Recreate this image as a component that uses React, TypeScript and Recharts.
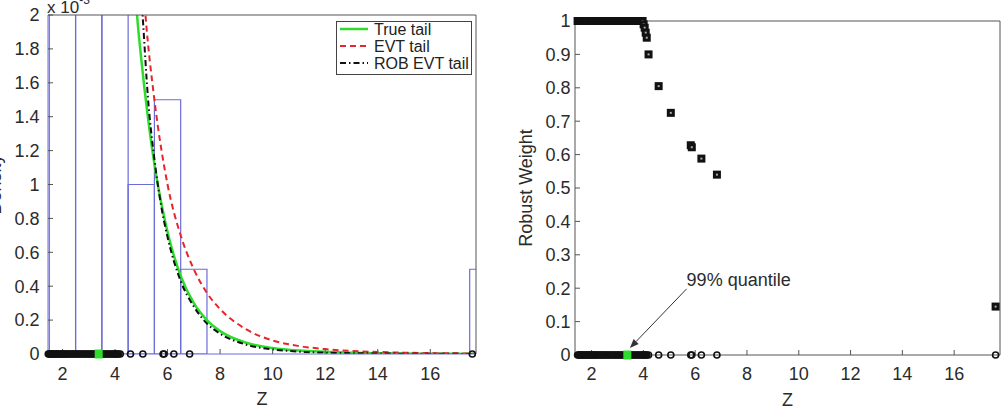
import React from 'react';
import {
  ComposedChart,
  Line,
  Scatter,
  XAxis,
  YAxis,
  ReferenceArea,
  ReferenceLine,
  Customized,
} from 'recharts';

// ---- axis ticks ----
const zTicks = [2, 4, 6, 8, 10, 12, 14, 16];
const densityTicks = [0, 0.2, 0.4, 0.6, 0.8, 1, 1.2, 1.4, 1.6, 1.8, 2];
const weightTicks = [0, 0.1, 0.2, 0.3, 0.4, 0.5, 0.6, 0.7, 0.8, 0.9, 1];

// ---- histogram (density, x 10^-3) ----
const binStart = [1.5, 2.5, 3.5, 4.5, 5.5, 6.5, 17.5];
const binEnd = [2.5, 3.5, 4.5, 5.5, 6.5, 7.5, 18.5];
const binHeight = [120, 30, 7.5, 1.0, 1.5, 0.5, 0.5];

// ---- tail densities (x 10^-3) ----
const trueTailZ = [4.7, 4.84, 5.0, 5.25, 5.5, 5.75, 6.0, 6.5, 7.0, 7.5, 8.0, 9.0, 10.0, 11.0, 12.0, 13.0, 14.0, 15.0, 16.0, 17.7];
const trueTailY = [2.35, 2.0, 1.74, 1.4, 1.12, 0.9, 0.72, 0.46, 0.3, 0.2, 0.135, 0.066, 0.035, 0.02, 0.013, 0.008, 0.005, 0.003, 0.002, 0.001];

const evtTailZ = [5.0, 5.16, 5.5, 6.0, 6.5, 7.0, 7.5, 8.0, 9.0, 10.0, 11.0, 12.0, 13.0, 14.0, 15.0, 16.0, 17.7];
const evtTailY = [2.35, 2.0, 1.5, 1.0, 0.7, 0.5, 0.36, 0.265, 0.145, 0.08, 0.047, 0.029, 0.018, 0.012, 0.008, 0.0055, 0.003];

const robTailZ = [4.85, 5.05, 5.25, 5.5, 5.75, 6.0, 6.5, 7.0, 7.5, 8.0, 9.0, 10.0, 11.0, 12.0, 13.0, 14.0, 15.0, 16.0, 17.7];
const robTailY = [2.45, 2.0, 1.52, 1.15, 0.88, 0.69, 0.43, 0.28, 0.18, 0.12, 0.055, 0.027, 0.014, 0.008, 0.005, 0.003, 0.002, 0.0012, 0.0006];

// ---- observations and their robust weights ----
const sampleZ = [
  1.46, 1.5, 1.53, 1.57, 1.61, 1.64, 1.69, 1.73, 1.78, 1.81, 1.86, 1.9, 1.95, 1.99,
  2.04, 2.09, 2.13, 2.18, 2.22, 2.27, 2.33, 2.38, 2.42, 2.47, 2.53, 2.58, 2.63, 2.69,
  2.74, 2.8, 2.85, 2.91, 2.97, 3.02, 3.08, 3.13, 3.19, 3.24, 3.3, 3.36, 3.42, 3.47,
  3.53, 3.58, 3.64, 3.69, 3.75, 3.81, 3.86, 3.92, 3.97, 4.01, 4.05, 4.09, 4.13,
  4.2, 4.59, 5.06, 5.83, 5.87, 6.24, 6.84, 17.6,
];
const sampleWeight = [
  1, 1, 1, 1, 1, 1, 1, 1, 1, 1, 1, 1, 1, 1,
  1, 1, 1, 1, 1, 1, 1, 1, 1, 1, 1, 1, 1, 1,
  1, 1, 1, 1, 1, 1, 1, 1, 1, 1, 1, 1, 1, 1,
  1, 1, 1, 1, 1, 1, 1, 1, 1, 0.99, 0.98, 0.965, 0.95,
  0.9, 0.805, 0.725, 0.628, 0.622, 0.588, 0.54, 0.145,
];
const quantile99 = 3.38;

const arrowFrom = { z: 5.67, w: 0.198 };
const arrowTo = { z: 3.48, w: 0.021 };

// ---- derived tables ----
const toLine = (zs: number[], ys: number[]) => zs.map((z, i) => ({ z, y: ys[i] }));
const trueData = toLine(trueTailZ, trueTailY);
const evtData = toLine(evtTailZ, evtTailY);
const robData = toLine(robTailZ, robTailY);
const zeroData = sampleZ.map((z) => ({ z, w: 0 }));
const weightData = sampleZ.map((z, i) => ({ z, w: sampleWeight[i] }));
const quantData = [{ z: quantile99, w: 0 }];

const font = '"Liberation Sans", Arial, Helvetica, sans-serif';
const txt = '#2b2b2b';
const axisGray = '#555';
const histBlue = '#6c6cd8';
const green = '#2ddc2d';
const red = '#e5262c';

const tickStyle = { fill: txt, fontSize: 18, fontFamily: font };

const OpenCircle = (p: any) => (
  <circle cx={p.cx} cy={p.cy} r={3} fill="none" stroke="#111" strokeWidth={1.6} />
);
const SquareMark = (p: any) => (
  <g>
    <rect x={p.cx - 4} y={p.cy - 4} width={8} height={8} fill="#111" />
    <rect x={p.cx - 1} y={p.cy - 1} width={2} height={2} fill="#aaa" />
  </g>
);
const GreenMark = (p: any) => (
  <rect x={p.cx - 4} y={p.cy - 4.5} width={8} height={9} fill={green} />
);

const Arrow = (p: any) => {
  const { x1, y1, x2, y2 } = p;
  const a = Math.atan2(y2 - y1, x2 - x1);
  const L = 9;
  const W = 3.5;
  const bx = x2 - L * Math.cos(a);
  const by = y2 - L * Math.sin(a);
  const px = -Math.sin(a) * W;
  const py = Math.cos(a) * W;
  return (
    <g>
      <line x1={x1} y1={y1} x2={bx} y2={by} stroke="#333" strokeWidth={1} />
      <polygon points={`${x2},${y2} ${bx + px},${by + py} ${bx - px},${by - py}`} fill="#333" />
      <text x={x1} y={y1 - 2.5} fontFamily={font} fontSize={18} fill={txt}>
        99% quantile
      </text>
    </g>
  );
};

const LegendBox = () => (
  <g fontFamily={font} fontSize={16} fill="#222">
    <rect x={336.5} y={21.5} width={135} height={53} fill="#fff" stroke="#444" />
    <line x1={340} x2={368} y1={29} y2={29} stroke={green} strokeWidth={2.5} />
    <text x={374} y={29} dy="0.36em">True tail</text>
    <line x1={340} x2={368} y1={46} y2={46} stroke={red} strokeWidth={2} strokeDasharray="6 4" />
    <text x={374} y={46} dy="0.36em">EVT tail</text>
    <line x1={340} x2={368} y1={63} y2={63} stroke="#111" strokeWidth={2} strokeDasharray="6 3 1.5 3" />
    <text x={374} y={63} dy="0.36em">ROB EVT tail</text>
  </g>
);

const Exponent = () => (
  <text x={47} y={12.5} fontFamily={font} fontSize={17} fill={txt}>
    x 10
    <tspan dy={-9} fontSize={12}>-3</tspan>
  </text>
);

const leftDomain: [number, number] = [1.45, 17.74];
const rightDomain: [number, number] = [1.36, 17.77];

export default function App() {
  return (
    <div style={{ position: 'absolute', left: 0, top: 0, width: 1008, height: 409, background: '#fff', overflow: 'hidden' }}>
      <div style={{ position: 'absolute', left: 0, top: 0 }}>
        <ComposedChart width={504} height={409} margin={{ top: 14, right: 27, bottom: 54, left: 47 }}>
          <XAxis
            type="number"
            dataKey="z"
            domain={leftDomain}
            ticks={zTicks}
            height={1}
            tickSize={-5}
            tickMargin={18}
            axisLine={{ stroke: histBlue }}
            tickLine={{ stroke: axisGray }}
            tick={tickStyle}
            label={{ value: 'Z', position: 'bottom', offset: 37, fill: txt, fontSize: 18, fontFamily: font }}
          />
          <XAxis
            xAxisId="top"
            orientation="top"
            type="number"
            dataKey="z"
            domain={leftDomain}
            ticks={zTicks}
            height={1}
            tickSize={-5}
            stroke={axisGray}
            tickFormatter={() => ''}
          />
          <YAxis
            type="number"
            domain={[0, 2]}
            ticks={densityTicks}
            allowDataOverflow
            width={1}
            tickSize={-5}
            tickMargin={13.5}
            axisLine={{ stroke: histBlue }}
            tickLine={{ stroke: axisGray }}
            tick={tickStyle}
            tickFormatter={(v) => String(v)}
            label={{ value: 'Density', angle: -90, position: 'left', offset: 52, fill: txt, fontSize: 18, fontFamily: font, style: { textAnchor: 'middle' } }}
          />
          <YAxis
            yAxisId="right"
            orientation="right"
            type="number"
            domain={[0, 2]}
            ticks={densityTicks}
            width={1}
            tickSize={-5}
            stroke={axisGray}
            tickFormatter={() => ''}
          />
          <YAxis yAxisId="s" dataKey="w" type="number" domain={[0, 2]} hide />

          {binStart.map((b, i) => (
            <ReferenceArea
              key={`bin-${i}`}
              x1={b}
              x2={binEnd[i]}
              y1={0}
              y2={binHeight[i]}
              ifOverflow="hidden"
              fill="none"
              fillOpacity={0}
              stroke={histBlue}
              strokeWidth={1.2}
              strokeOpacity={1}
            />
          ))}

          <Line data={trueData} dataKey="y" type="monotone" stroke={green} strokeWidth={2.5} dot={false} isAnimationActive={false} />
          <Line data={evtData} dataKey="y" type="monotone" stroke={red} strokeWidth={2} strokeDasharray="6 4" dot={false} isAnimationActive={false} />
          <Line data={robData} dataKey="y" type="monotone" stroke="#111" strokeWidth={2} strokeDasharray="6 3 1.5 3" dot={false} isAnimationActive={false} />

          <Scatter yAxisId="s" data={zeroData} dataKey="w" shape={OpenCircle} isAnimationActive={false} />
          <Scatter yAxisId="s" data={quantData} dataKey="w" shape={GreenMark} isAnimationActive={false} />

          <Customized component={LegendBox} />
          <Customized component={Exponent} />
        </ComposedChart>
      </div>

      <div style={{ position: 'absolute', left: 504, top: 0 }}>
        <ComposedChart width={504} height={409} margin={{ top: 20, right: 7, bottom: 53, left: 70 }}>
          <XAxis
            type="number"
            dataKey="z"
            domain={rightDomain}
            ticks={zTicks}
            height={1}
            tickSize={-5}
            tickMargin={17}
            stroke={axisGray}
            tick={tickStyle}
            label={{ value: 'Z', position: 'bottom', offset: 37, fill: txt, fontSize: 18, fontFamily: font }}
          />
          <XAxis
            xAxisId="top"
            orientation="top"
            type="number"
            dataKey="z"
            domain={rightDomain}
            ticks={zTicks}
            height={1}
            tickSize={-5}
            stroke={axisGray}
            tickFormatter={() => ''}
          />
          <YAxis
            type="number"
            dataKey="w"
            domain={[0, 1]}
            ticks={weightTicks}
            width={1}
            tickSize={-5}
            tickMargin={9.5}
            stroke={axisGray}
            tick={tickStyle}
            tickFormatter={(v) => String(v)}
            label={{ value: 'Robust Weight', angle: -90, position: 'left', offset: 48, fill: txt, fontSize: 18, fontFamily: font, style: { textAnchor: 'middle' } }}
          />
          <YAxis
            yAxisId="right"
            orientation="right"
            type="number"
            domain={[0, 1]}
            ticks={weightTicks}
            width={1}
            tickSize={-5}
            stroke={axisGray}
            tickFormatter={() => ''}
          />

          <Scatter data={zeroData} dataKey="w" shape={OpenCircle} isAnimationActive={false} />
          <Scatter data={weightData} dataKey="w" shape={SquareMark} isAnimationActive={false} />
          <Scatter data={quantData} dataKey="w" shape={GreenMark} isAnimationActive={false} />

          <ReferenceLine
            segment={[
              { x: arrowFrom.z, y: arrowFrom.w },
              { x: arrowTo.z, y: arrowTo.w },
            ]}
            ifOverflow="visible"
            shape={Arrow}
          />
        </ComposedChart>
      </div>
    </div>
  );
}
